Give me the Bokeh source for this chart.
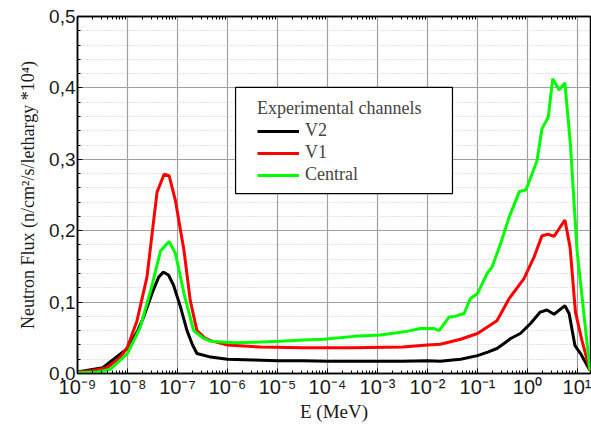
from bokeh.plotting import figure
from bokeh.models import (Range1d, Legend, LegendItem, LogAxis, FixedTicker, BoxAnnotation,
                          SingleIntervalTicker, CustomJSTickFormatter, ColumnDataSource)
from bokeh.embed import file_html
from bokeh.resources import INLINE

# ---- data (E in MeV, flux in n/cm2/s/lethargy *1e4) ----
e_v2 = [1.0e-9, 3.2e-9, 1.0e-8, 1.6e-8, 2.1e-8, 3.2e-8, 4.2e-8, 5.2e-8, 6.6e-8, 8.3e-8,
        1.15e-7, 1.55e-7, 2.0e-7, 2.45e-7, 4.6e-7, 1.0e-6, 3.2e-6, 1.0e-5, 3.2e-5, 1.0e-4,
        3.2e-4, 1.0e-3, 3.2e-3, 1.0e-2, 1.8e-2, 3.2e-2, 4.6e-2, 0.1, 0.16, 0.245, 0.355,
        0.46, 0.72, 1.15, 1.8, 2.45, 3.4, 5.6, 6.8, 8.9, 11.5, 17.8]
flux_v2 = [0.002, 0.008, 0.035, 0.060, 0.079, 0.115, 0.135, 0.142, 0.138, 0.124,
           0.093, 0.060, 0.040, 0.028, 0.023, 0.020, 0.019, 0.018, 0.018, 0.017,
           0.017, 0.017, 0.017, 0.018, 0.017, 0.019, 0.020, 0.025, 0.030, 0.035, 0.043,
           0.049, 0.056, 0.070, 0.086, 0.089, 0.083, 0.095, 0.084, 0.039, 0.028, 0.004]

e_v1 = [1.0e-9, 2.0e-9, 3.9e-9, 7.2e-9, 1.0e-8, 1.55e-8, 2.45e-8, 3.9e-8, 5.4e-8, 6.8e-8,
        9.1e-8, 1.35e-7, 1.8e-7, 2.45e-7, 3.5e-7, 4.6e-7, 1.0e-6, 4.6e-6, 3.2e-5, 3.2e-4,
        3.2e-3, 1.0e-2, 1.8e-2, 4.6e-2, 0.1, 0.245, 0.43, 0.85, 1.35, 1.95, 2.6, 3.4,
        5.6, 7.1, 9.1, 12.3, 17.8]
flux_v1 = [0.002, 0.004, 0.008, 0.023, 0.037, 0.074, 0.135, 0.254, 0.279, 0.277,
           0.242, 0.172, 0.102, 0.060, 0.050, 0.046, 0.040, 0.037, 0.036, 0.036,
           0.037, 0.040, 0.041, 0.048, 0.056, 0.074, 0.105, 0.133, 0.163, 0.193, 0.195, 0.192,
           0.215, 0.177, 0.086, 0.046, 0.004]

e_c = [1.0e-9, 2.5e-9, 4.6e-9, 1.0e-8, 1.8e-8, 2.9e-8, 4.6e-8, 6.8e-8, 9.1e-8, 1.35e-7,
       2.1e-7, 3.2e-7, 4.6e-7, 1.35e-6, 4.6e-6, 1.15e-5, 3.2e-5, 8.5e-5, 3.4e-4, 1.15e-3,
       3.9e-3, 7.2e-3, 1.35e-2, 1.7e-2, 2.7e-2, 3.5e-2, 5.4e-2, 7.2e-2, 0.1, 0.155,
       0.195, 0.29, 0.43, 0.69, 0.93, 1.55, 1.95, 2.6, 3.2, 4.3, 5.6, 7.2, 9.8, 17.8]
flux_c = [0.001, 0.002, 0.006, 0.028, 0.065, 0.116, 0.172, 0.185, 0.168, 0.112,
          0.060, 0.050, 0.045, 0.043, 0.044, 0.045, 0.047, 0.048, 0.052, 0.054,
          0.059, 0.063, 0.063, 0.060, 0.079, 0.080, 0.084, 0.105, 0.112, 0.140,
          0.149, 0.182, 0.219, 0.255, 0.257, 0.298, 0.343, 0.359, 0.413, 0.397, 0.407, 0.322, 0.172, 0.004]

series_names = ["V2", "V1", "Central"]
series_colors = ["#000000", "#ff0000", "#00ff00"]
legend_title = "Experimental channels"
x_label = "E (MeV)"
y_label = "Neutron Flux (n/cm\u00b2/s/lethargy *10\u2074)"

decades = [10.0 ** k for k in range(-9, 2)]
minor = [m * d for d in decades for m in range(2, 10)]

p = figure(width=591, height=428, x_axis_type="log",
           x_range=Range1d(1e-9, 18.2), y_range=Range1d(0, 0.5),
           min_border_left=77, min_border_right=1, min_border_top=16, min_border_bottom=55,
           output_backend="svg", toolbar_location=None)
p.outline_line_color = "black"
p.outline_line_width = 1.5

p.xaxis.ticker = FixedTicker(ticks=decades, minor_ticks=minor)
p.xaxis.formatter = CustomJSTickFormatter(code="""
const sup = {'-':'\u207b','0':'\u2070','1':'\u00b9','2':'\u00b2','3':'\u00b3','4':'\u2074',
             '5':'\u2075','6':'\u2076','7':'\u2077','8':'\u2078','9':'\u2079'};
const e = Math.round(Math.log10(tick)).toString();
let s = '';
for (const c of e) { s += sup[c]; }
return '10' + s;
""")
p.yaxis.ticker = SingleIntervalTicker(interval=0.1, num_minor_ticks=5)
p.yaxis.formatter = CustomJSTickFormatter(code="return tick.toFixed(1).replace('.', ',');")

for ax in (p.xaxis[0], p.yaxis[0]):
    ax.axis_line_color = "black"
    ax.axis_line_width = 1.5
    ax.major_tick_in = 5
    ax.major_tick_out = 0
    ax.minor_tick_in = 3
    ax.minor_tick_out = 0
    ax.major_label_text_font = "Liberation Sans"
    ax.major_label_text_color = "#1a1a1a"
    ax.axis_label_text_font = "Liberation Serif"
    ax.axis_label_text_font_style = "normal"
    ax.axis_label_text_color = "#1a1a1a"

p.xaxis.major_label_text_font_size = "20px"
p.yaxis.major_label_text_font_size = "19px"
p.xaxis.axis_label = x_label
p.yaxis.axis_label = y_label
p.xaxis.axis_label_text_font_size = "19px"
p.yaxis.axis_label_text_font_size = "18px"
p.xaxis.major_label_standoff = 2
p.yaxis.major_label_standoff = 2
p.xaxis.axis_label_standoff = 0
p.yaxis.axis_label_standoff = 8

top = LogAxis(ticker=FixedTicker(ticks=decades, minor_ticks=minor),
              major_label_text_font_size="1px", major_label_text_alpha=0.0,
              major_label_standoff=0,
              axis_line_color="black", axis_line_width=1.5,
              major_tick_in=0, major_tick_out=0, minor_tick_in=3, minor_tick_out=0)
p.add_layout(top, "above")

p.xgrid.grid_line_color = "#a0a0a0"
p.xgrid.grid_line_width = 1.2
p.ygrid.grid_line_color = "#a0a0a0"
p.ygrid.grid_line_width = 1.2
p.ygrid.minor_grid_line_color = "#c8c8c8"
p.ygrid.minor_grid_line_dash = "1 2"
p.ygrid.minor_grid_line_width = 1

renderers = []
for xs, ys, c in ((e_v2, flux_v2, series_colors[0]),
                  (e_v1, flux_v1, series_colors[1]),
                  (e_c, flux_c, series_colors[2])):
    src = ColumnDataSource(dict(x=xs, y=ys))
    renderers.append(p.line("x", "y", source=src, line_color=c, line_width=3))

# legend frame (drawn as a box behind a transparent legend)
legend_box = BoxAnnotation(left=1.45e-6, right=0.0316, bottom=0.252, top=0.4006,
                           fill_color="white", fill_alpha=1.0,
                           line_color="black", line_width=1.2, line_alpha=1.0)
p.add_layout(legend_box)

legend = Legend(items=[LegendItem(label=n, renderers=[r]) for n, r in zip(series_names, renderers)],
                location=(168, 176), title=legend_title,
                title_text_font="Liberation Serif", title_text_font_size="18px",
                title_text_font_style="normal", title_standoff=1,
                label_text_font="Liberation Serif", label_text_font_size="18px",
                glyph_width=42, glyph_height=20, label_height=20, label_standoff=6,
                spacing=1, padding=12, margin=0,
                border_line_alpha=0.0, background_fill_alpha=0.0)
p.add_layout(legend)

open("out.html", "w").write(file_html(p, INLINE))
